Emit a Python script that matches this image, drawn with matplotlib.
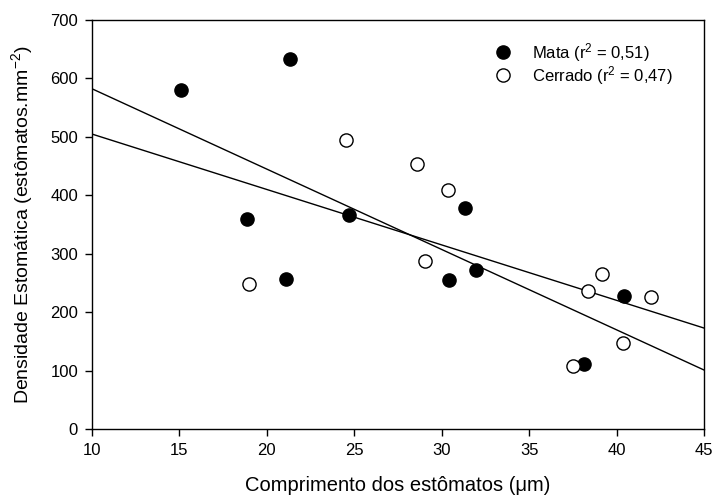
import numpy as np
import matplotlib
matplotlib.use("Agg")
import matplotlib.pyplot as plt

plt.rcParams['font.family'] = ['Liberation Sans', 'DejaVu Sans']
plt.rcParams['mathtext.fontset'] = 'custom'
plt.rcParams['mathtext.rm'] = 'Liberation Sans'
plt.rcParams['mathtext.it'] = 'Liberation Sans:italic'

mata_x = [15.1, 21.3, 18.85, 21.1, 24.67, 31.33, 31.94, 30.44, 38.14, 40.45]
mata_y = [580, 634, 359, 257, 367, 378, 273, 255, 111, 228]
cerrado_x = [18.98, 24.55, 28.57, 30.36, 29.05, 37.49, 38.36, 39.19, 40.35, 41.95]
cerrado_y = [248, 495, 454, 409, 288, 109, 236, 266, 148, 227]

x_ticks = [10, 15, 20, 25, 30, 35, 40, 45]
y_ticks = [0, 100, 200, 300, 400, 500, 600, 700]

fig = plt.figure(figsize=(7.13, 4.98), dpi=100)
ax = fig.add_axes([92/713, 1-429.3/498, (704-92)/713, (429.3-20)/498])

xl = np.array([10, 45])
for xs, ys in [(mata_x, mata_y), (cerrado_x, cerrado_y)]:
    m, b = np.polyfit(xs, ys, 1)
    ax.plot(xl, m*xl + b, color='black', lw=1.0, zorder=2)

ax.plot(mata_x, mata_y, 'o', ms=9.5, mfc='black', mec='black', mew=1,
        ls='none', label='Mata (r$^2$ = 0,51)', zorder=3)
ax.plot(cerrado_x, cerrado_y, 'o', ms=9.5, mfc='white', mec='black', mew=1,
        ls='none', label='Cerrado (r$^2$ = 0,47)', zorder=3)

ax.set_xlim(10, 45)
ax.set_ylim(0, 700)
ax.set_xticks(x_ticks)
ax.set_yticks(y_ticks)
ax.tick_params(direction='out', length=5, width=1, labelsize=12, pad=5)
for s in ax.spines.values():
    s.set_linewidth(1.0)

ax.set_xlabel('Comprimento dos estômatos (μm)', fontsize=14.5, labelpad=13)
ax.set_ylabel('Densidade Estomática (estômatos.mm$^{-2}$)', fontsize=14, labelpad=11)

ax.legend(loc='upper left', bbox_to_anchor=(0.64, 0.965), frameon=False,
          fontsize=12, handletextpad=1.0, labelspacing=0.0, borderaxespad=0,
          handlelength=1.5)

fig.savefig('out.png', dpi=100)
